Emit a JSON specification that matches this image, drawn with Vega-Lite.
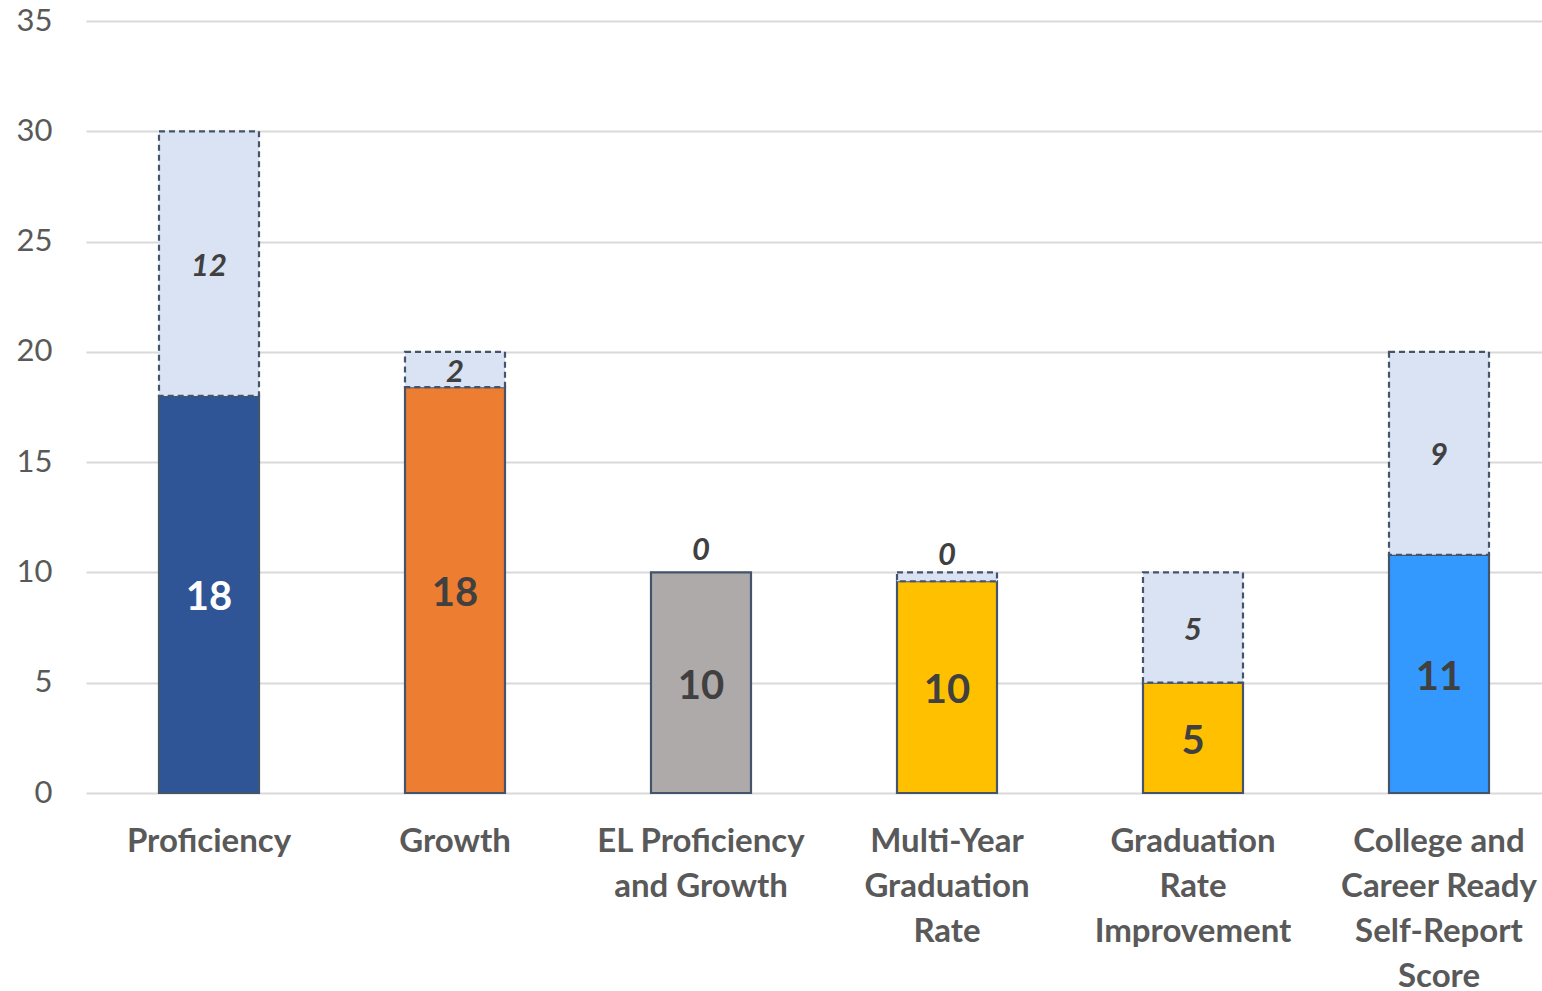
{
  "$schema": "https://vega.github.io/schema/vega-lite/v6.json",
  "width": 1456,
  "height": 772,
  "autosize": {"type": "none"},
  "padding": {"left": 86, "top": 21, "right": 0, "bottom": 198},
  "background": "white",
  "config": {"view": {"stroke": null}, "font": "Lato"},
  "data": {
    "values": [
      {"category": "Proficiency", "part": "Earned", "value": 18.0, "label": "18"},
      {"category": "Proficiency", "part": "Missing", "value": 12.0, "label": "12"},
      {"category": "Growth", "part": "Earned", "value": 18.4, "label": "18"},
      {"category": "Growth", "part": "Missing", "value": 1.6, "label": "2"},
      {"category": "EL Proficiency and Growth", "part": "Earned", "value": 10.0, "label": "10"},
      {"category": "EL Proficiency and Growth", "part": "Missing", "value": 0.0, "label": "0"},
      {"category": "Multi-Year Graduation Rate", "part": "Earned", "value": 9.6, "label": "10"},
      {"category": "Multi-Year Graduation Rate", "part": "Missing", "value": 0.4, "label": "0"},
      {"category": "Graduation Rate Improvement", "part": "Earned", "value": 5.0, "label": "5"},
      {"category": "Graduation Rate Improvement", "part": "Missing", "value": 5.0, "label": "5"},
      {"category": "College and Career Ready Self-Report Score", "part": "Earned", "value": 10.8, "label": "11"},
      {"category": "College and Career Ready Self-Report Score", "part": "Missing", "value": 9.2, "label": "9"}
    ]
  },
  "encoding": {
    "x": {
      "field": "category",
      "type": "nominal",
      "sort": null,
      "scale": {"range": [0, 1476], "paddingInner": 0.5935, "paddingOuter": 0.29675},
      "axis": {
        "title": null,
        "domain": false,
        "ticks": false,
        "labelAngle": 0,
        "labelFont": "Lato",
        "labelFontSize": 33,
        "labelFontWeight": "bold",
        "labelColor": "#595959",
        "labelPadding": 32,
        "labelBaseline": "top",
        "labelLineHeight": 45,
        "labelLimit": 0,
        "labelExpr": "datum.value == 'EL Proficiency and Growth' ? ['EL Proficiency', 'and Growth'] : datum.value == 'Multi-Year Graduation Rate' ? ['Multi-Year', 'Graduation', 'Rate'] : datum.value == 'Graduation Rate Improvement' ? ['Graduation', 'Rate', 'Improvement'] : datum.value == 'College and Career Ready Self-Report Score' ? ['College and', 'Career Ready', 'Self-Report', 'Score'] : datum.value"
      }
    },
    "y": {
      "field": "value",
      "type": "quantitative",
      "stack": "zero",
      "scale": {"domain": [0, 35], "nice": false},
      "axis": {
        "title": null,
        "values": [0, 5, 10, 15, 20, 25, 30, 35],
        "domain": false,
        "ticks": false,
        "labelFont": "Lato",
        "labelFontSize": 31,
        "labelColor": "#595959",
        "labelPadding": 34,
        "gridColor": "#d9d9d9",
        "gridWidth": 2
      }
    },
    "order": {"field": "part", "type": "nominal", "sort": "ascending"}
  },
  "layer": [
    {
      "transform": [{"filter": "datum.value > 0"}],
      "mark": {"type": "bar", "stroke": "#44546a", "strokeWidth": 2.2},
      "encoding": {
        "color": {
          "condition": {"test": "datum.part === 'Missing'", "value": "#dae3f3"},
          "field": "category",
          "type": "nominal",
          "legend": null,
          "scale": {
            "domain": ["Proficiency", "Growth", "EL Proficiency and Growth", "Multi-Year Graduation Rate", "Graduation Rate Improvement", "College and Career Ready Self-Report Score"],
            "range": ["#2f5597", "#ed7d31", "#aeaaaa", "#ffc000", "#ffc000", "#3399ff"]
          }
        },
        "strokeDash": {
          "condition": {"test": "datum.part === 'Missing'", "value": [6, 4]},
          "value": [1, 0]
        },
        "opacity": {"value": 1}
      }
    },
    {
      "mark": {"type": "text", "font": "Lato", "fontSize": 40, "fontWeight": "bold", "baseline": "middle", "align": "center", "dy": 4},
      "encoding": {
        "y": {"field": "value", "type": "quantitative", "stack": "zero", "bandPosition": 0.5},
        "text": {"field": "label"},
        "color": {
          "condition": {"test": "datum.category === 'Proficiency'", "value": "#ffffff"},
          "value": "#404040"
        },
        "opacity": {
          "condition": {"test": "datum.part === 'Earned'", "value": 1},
          "value": 0
        }
      }
    },
    {
      "mark": {"type": "text", "font": "Lato", "fontSize": 31, "fontWeight": "bold", "fontStyle": "italic", "baseline": "middle", "align": "center", "color": "#404040", "dy": 3},
      "encoding": {
        "y": {"field": "value", "type": "quantitative", "stack": "zero", "bandPosition": 0.5},
        "text": {"field": "label"},
        "opacity": {
          "condition": {"test": "datum.part === 'Missing' && datum.value >= 1", "value": 1},
          "value": 0
        }
      }
    },
    {
      "mark": {"type": "text", "font": "Lato", "fontSize": 31, "fontWeight": "bold", "fontStyle": "italic", "baseline": "middle", "align": "center", "color": "#404040", "dy": -21},
      "encoding": {
        "y": {"field": "value", "type": "quantitative", "stack": "zero", "bandPosition": 0.5},
        "text": {"field": "label"},
        "opacity": {
          "condition": {"test": "datum.part === 'Missing' && datum.value < 1", "value": 1},
          "value": 0
        }
      }
    }
  ]
}
